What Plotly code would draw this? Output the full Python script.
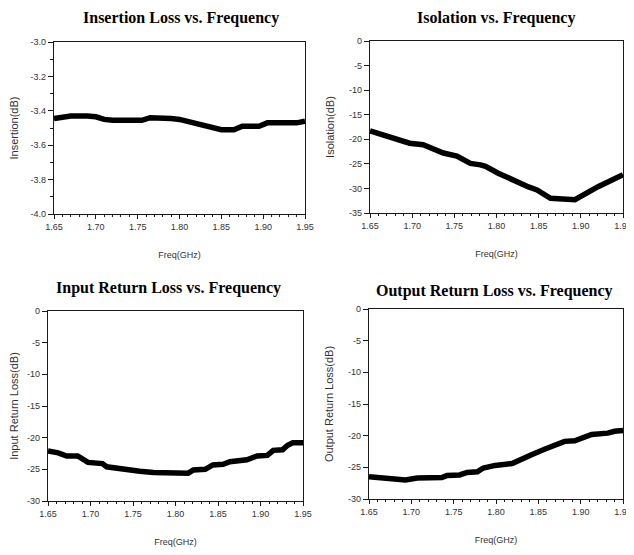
import plotly.graph_objects as go

W, H = 634, 555
OFF = 8                       # page body margin offset
FW, FH = W - OFF, H - OFF     # figure size

# ---------------- data ----------------
il_freq = [1.650, 1.660, 1.670, 1.690, 1.700, 1.710, 1.720, 1.740, 1.755, 1.765, 1.780, 1.790,
           1.800, 1.815, 1.835, 1.850, 1.865, 1.875, 1.895, 1.905, 1.940, 1.950]
il_db = [-3.445, -3.44, -3.43, -3.43, -3.435, -3.45, -3.455, -3.455, -3.455, -3.44, -3.44, -3.445,
         -3.45, -3.47, -3.49, -3.51, -3.51, -3.49, -3.49, -3.47, -3.47, -3.46]

iso_freq = [1.650, 1.671, 1.697, 1.713, 1.721, 1.737, 1.753, 1.760, 1.769, 1.781, 1.787, 1.802,
            1.819, 1.826, 1.838, 1.848, 1.864, 1.893, 1.903, 1.921, 1.937, 1.950]
iso_db = [-18.3, -19.3, -20.8, -21.1, -21.6, -22.8, -23.4, -24.0, -24.9, -25.2, -25.5, -26.9,
          -28.3, -28.6, -29.7, -30.3, -32.0, -32.3, -31.3, -29.6, -28.3, -27.2]

irl_freq = [1.650, 1.662, 1.672, 1.685, 1.697, 1.714, 1.719, 1.735, 1.746, 1.758, 1.774, 1.790,
            1.797, 1.815, 1.821, 1.835, 1.844, 1.856, 1.864, 1.884, 1.896, 1.908, 1.915, 1.926,
            1.932, 1.938, 1.950]
irl_db = [-22.1, -22.4, -22.9, -22.9, -23.9, -24.1, -24.6, -24.9, -25.2, -25.3, -25.5, -25.6,
          -25.6, -25.6, -25.1, -25.0, -24.3, -24.2, -23.8, -23.5, -22.9, -22.8, -22.0, -21.9,
          -21.2, -20.8, -20.8]

orl_freq = [1.650, 1.663, 1.678, 1.693, 1.707, 1.722, 1.736, 1.742, 1.757, 1.766, 1.778, 1.785,
            1.799, 1.819, 1.828, 1.842, 1.858, 1.870, 1.881, 1.893, 1.913, 1.932, 1.940, 1.950]
orl_db = [-26.5, -26.6, -26.7, -27.0, -26.7, -26.7, -26.6, -26.3, -26.2, -25.8, -25.7, -25.1,
          -24.7, -24.4, -23.8, -23.0, -22.1, -21.5, -20.9, -20.8, -19.8, -19.6, -19.3, -19.2]

freq_ticks = [1.65, 1.70, 1.75, 1.80, 1.85, 1.90, 1.95]
freq_labels = ["1.65", "1.70", "1.75", "1.80", "1.85", "1.90", "1.95"]

titles = ["Insertion Loss vs. Frequency", "Isolation vs. Frequency",
          "Input Return Loss vs. Frequency", "Output Return Loss vs. Frequency"]
ytitles = ["Insertion(dB)", "Isolation(dB)", "Input Return Loss(dB)", "Output Return Loss(dB)"]
xtitle = "Freq(GHz)"

il_ticks = [-3.0, -3.2, -3.4, -3.6, -3.8, -4.0]
iso_ticks = [0, -5, -10, -15, -20, -25, -30, -35]
rl_ticks = [0, -5, -10, -15, -20, -25, -30]

# ---------------- layout (pixel boxes on screen) ----------------
boxes = [  # left, right, top, bottom in px
    (54, 305, 42, 214),
    (370, 623, 41, 213),
    (48, 303, 311, 501),
    (369, 623, 309, 499),
]
yranges = [[-4.0, -3.0], [-35, 0], [-30, 0], [-30, 0]]
yticks = [il_ticks, iso_ticks, rl_ticks, rl_ticks]
ylabels = [["%.1f" % v for v in il_ticks], [str(v) for v in iso_ticks],
           [str(v) for v in rl_ticks], [str(v) for v in rl_ticks]]
yminor = [0.1, None, None, None]
data = [(il_freq, il_db), (iso_freq, iso_db), (irl_freq, irl_db), (orl_freq, orl_db)]


def px(x):
    return (x - OFF) / FW


def py(y):
    return 1 - (y - OFF) / FH


fig = go.Figure()
ink = "#1a1a1a"
sans = "Liberation Sans, Arial, sans-serif"
tickfont = dict(family=sans, size=9, color="#333")

for i, ((fx, fy), (l, r, t, b)) in enumerate(zip(data, boxes)):
    n = "" if i == 0 else str(i + 1)
    fig.add_trace(go.Scatter(x=fx, y=fy, mode="lines",
                             line=dict(color="black", width=5.5),
                             xaxis="x" + n, yaxis="y" + n, showlegend=False))
    xa = dict(domain=[px(l), px(r)], range=[1.65, 1.95], anchor="y" + n, automargin=False,
              tickvals=freq_ticks, ticktext=freq_labels, ticks="outside", ticklen=4,
              tickcolor=ink, showline=True, linecolor=ink, linewidth=1.2, mirror=True,
              showgrid=False, zeroline=False, tickfont=tickfont,
              minor=dict(dtick=0.01, tick0=1.65, ticks="outside", ticklen=2, tickcolor=ink),
              title=dict(text=xtitle, font=dict(family=sans, size=9, color="#333"),
                         standoff=20))
    ya = dict(domain=[py(b), py(t)], range=yranges[i], anchor="x" + n, automargin=False,
              tickvals=yticks[i], ticktext=ylabels[i], ticks="outside", ticklen=5,
              tickcolor=ink, showline=True, linecolor=ink, linewidth=1.2, mirror=True,
              showgrid=False, zeroline=False, tickfont=tickfont,
              title=dict(text=ytitles[i], font=dict(family=sans, size=11, color="#333"),
                         standoff=12))
    if yminor[i]:
        ya["minor"] = dict(dtick=yminor[i], ticks="outside", ticklen=3, tickcolor=ink)
    fig.layout["xaxis" + n] = xa
    fig.layout["yaxis" + n] = ya

title_pos = [(181, 18), (496, 18), (168, 288), (494, 291)]
for txt, (cx, cy) in zip(titles, title_pos):
    fig.add_annotation(text="<b>%s</b>" % txt, x=px(cx), y=py(cy), xref="paper",
                       yref="paper", showarrow=False, xanchor="center", yanchor="middle",
                       font=dict(family="Liberation Serif, Times New Roman, serif",
                                 size=16, color="black"))

fig.update_layout(template="none", width=FW, height=FH, margin=dict(l=0, r=0, t=0, b=0),
                  paper_bgcolor="white", plot_bgcolor="white", showlegend=False)

fig.write_html("out.html")
